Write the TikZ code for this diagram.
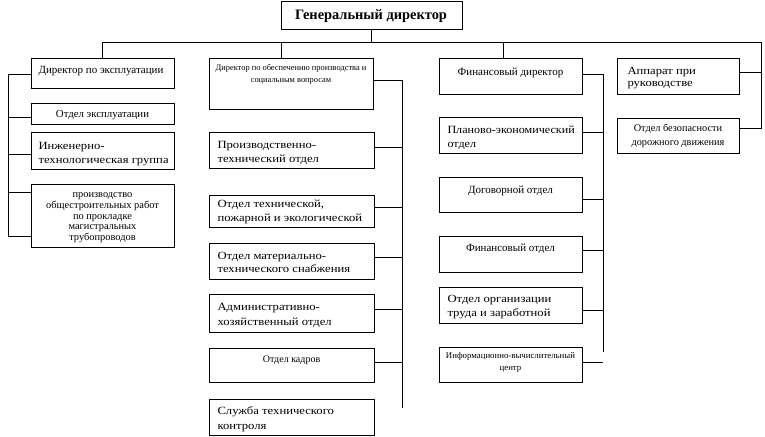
\documentclass[tikz,border=0pt]{standalone}
\usepackage{fontspec}
\setmainfont{Liberation Serif}
\newfontfamily\wf[FakeStretch=1.15]{Liberation Serif}
\newfontfamily\wfn[FakeStretch=1.1]{Liberation Serif}
\usetikzlibrary{fit}
\begin{document}
\begin{tikzpicture}[x=1pt,y=-1pt,
  every path/.style={line width=1pt},
  box/.style={draw, inner sep=0pt, line width=1pt},
  conn/.style={draw, line width=1pt},
  tl/.style={anchor=north west, inner sep=0pt, align=left},
  tc/.style={anchor=north, inner sep=0pt, align=center},
  fA/.style={font=\fontsize{11}{14}\selectfont},
  fB/.style={font=\wf\fontsize{11}{14}\selectfont}]
\useasboundingbox (0,0) rectangle (765,436);
% boxes
\node[box, fit={(281,2) (462,30)}] (gd) {};
\node[box, fit={(31,59) (174,88)}] (ed) {};
\node[box, fit={(31,103) (174,124)}] (ex) {};
\node[box, fit={(31,132) (174,169)}] (ig) {};
\node[box, fit={(31,184) (174,247)}] (pr) {};
\node[box, fit={(209,59) (373,109)}] (pd) {};
\node[box, fit={(209,132) (374,168)}] (pt) {};
\node[box, fit={(209,195) (374,227)}] (tp) {};
\node[box, fit={(209,243) (374,279)}] (ms) {};
\node[box, fit={(209,294) (374,332)}] (ah) {};
\node[box, fit={(209,348) (374,382)}] (ok) {};
\node[box, fit={(209,399) (374,435)}] (sk) {};
\node[box, fit={(439,59) (582,94)}] (fd) {};
\node[box, fit={(439,117) (582,153)}] (pe) {};
\node[box, fit={(439,177) (582,212)}] (dg) {};
\node[box, fit={(439,236) (582,272)}] (fo) {};
\node[box, fit={(439,287) (582,323)}] (ot) {};
\node[box, fit={(439,347) (582,382)}] (iv) {};
\node[box, fit={(617,59) (739,94)}] (ap) {};
\node[box, fit={(617,118) (739,153)}] (ob) {};
% texts
\node[anchor=center, inner sep=0pt, font=\fontsize{14.4}{16}\bfseries] (gdt) at (371,16) {Генеральный директор};
\node[tl, font=\fontsize{11}{14}\selectfont] (edt) at (38,65.5) {Директор по эксплуатации};
\node[tc, font=\fontsize{10.8}{14}\selectfont] (ext) at (102.5,110) {Отдел эксплуатации};
\node[tl, fB] (igt) at (38,141.5) {Инженерно-\\технологическая группа};
\node[tc, font=\fontsize{10.4}{10.8}\selectfont] (prt) at (102.5,192) {производство\\общестроительных работ\\по прокладке\\магистральных\\трубопроводов};
\node[tc, font=\fontsize{8.4}{12}\selectfont] (pdt) at (291,64) {Директор по обеспечению производства и\\социальным вопросам};
\node[tl, fB] (ptt) at (217,140.5) {Производственно-\\технический отдел};
\node[tl, fB] (tpt) at (217,199) {Отдел технической,\\пожарной и экологической};
\node[tl, font=\wf\fontsize{11}{12.5}\selectfont] (mst) at (217,252) {Отдел материально-\\технического снабжения};
\node[tl, font=\wf\fontsize{11}{15}\selectfont] (aht) at (217,303) {Административно-\\хозяйственный отдел};
\node[tc, font=\fontsize{10}{14}\selectfont] (okt) at (291.5,355.5) {Отдел кадров};
\node[tl, font=\wf\fontsize{11}{15}\selectfont] (skt) at (217,406) {Служба технического\\контроля};
\node[tc, fA] (fdt) at (510.5,67) {Финансовый директор};
\node[tl, font=\wfn\fontsize{11}{14}\selectfont] (pet) at (447,125) {Планово-экономический\\отдел};
\node[tc, fA] (dgt) at (510.5,185) {Договорной отдел};
\node[tc, fA] (fot) at (510.5,243) {Финансовый отдел};
\node[tl, fB] (ott) at (447,295) {Отдел организации\\труда и заработной};
\node[tc, font=\fontsize{8.8}{12}\selectfont] (ivt) at (510.5,351.5) {Информационно-вычислительный\\центр};
\node[tl, font=\wf\fontsize{11}{12}\selectfont] (apt) at (627,66.5) {Аппарат при\\руководстве};
\node[tc, font=\fontsize{10.3}{14}\selectfont] (obt) at (678,124) {Отдел безопасности\\дорожного движения};
% bus coordinates
\coordinate (busL) at (102,43);
\coordinate (busR) at (761,43);
\coordinate (lb) at (8,74);
\coordinate (mb) at (402,80);
\coordinate (fb) at (603,74);
% top level
\draw[conn] (gd.south) -- (gd.south |- busL);
\draw[conn] (busL) -- (busR) -- (busR |- 0,128) -- (ob.east |- 0,128);
\draw[conn] (busL) -- (ed.north -| busL);
\draw[conn] (281,43) -- (pd.north -| 281,0);
\draw[conn] (503,43) -- (fd.north -| 503,0);
\draw[conn] (ap.east |- 0,72) -- (busR |- 0,72);
% left group
\draw[conn] (ed.west |- lb) -- (lb) -- (lb |- 0,236) -- (pr.west |- 0,236);
\draw[conn] (lb |- 0,117) -- (ex.west |- 0,117);
\draw[conn] (lb |- 0,154) -- (ig.west |- 0,154);
\draw[conn] (lb |- 0,192) -- (pr.west |- 0,192);
% middle group
\draw[conn] (pd.east |- mb) -- (mb) -- (mb |- 0,408);
\draw[conn] (mb |- 0,147) -- (pt.east |- 0,147);
\draw[conn] (mb |- 0,207) -- (tp.east |- 0,207);
\draw[conn] (mb |- 0,257) -- (ms.east |- 0,257);
\draw[conn] (mb |- 0,309) -- (ah.east |- 0,309);
\draw[conn] (mb |- 0,362) -- (ok.east |- 0,362);
% finance group
\draw[conn] (fd.east |- fb) -- (fb) -- (fb |- 0,352);
\draw[conn] (fb |- 0,132) -- (pe.east |- 0,132);
\draw[conn] (fb |- 0,199) -- (dg.east |- 0,199);
\draw[conn] (fb |- 0,250) -- (fo.east |- 0,250);
\draw[conn] (fb |- 0,310) -- (ot.east |- 0,310);
\draw[conn] (iv.east |- 0,362) -- (fb |- 0,362);
\end{tikzpicture}
\end{document}
